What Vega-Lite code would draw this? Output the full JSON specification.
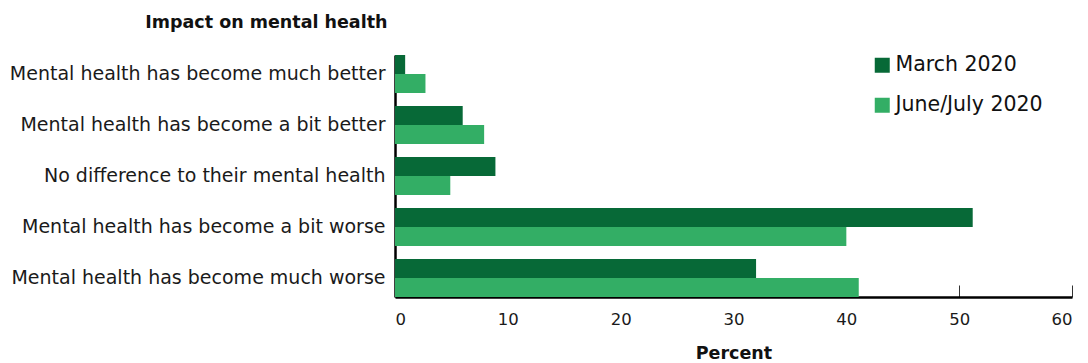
{
  "$schema": "https://vega.github.io/schema/vega-lite/v6.json",
  "autosize": {"type": "none"},
  "padding": {"left": 395, "top": 55, "right": 16, "bottom": 66},
  "width": 677,
  "height": 242,
  "config": {
    "view": {"stroke": null},
    "font": "DejaVu Sans",
    "axis": {"labelFont": "DejaVu Sans", "titleFont": "DejaVu Sans", "labelColor": "#1a1a1a", "titleColor": "#111111"},
    "legend": {"labelFont": "DejaVu Sans"}
  },
  "data": {
    "values": [
      {"impact": "Mental health has become much better", "period": "March 2020", "pct": 0.9},
      {"impact": "Mental health has become much better", "period": "June/July 2020", "pct": 2.7},
      {"impact": "Mental health has become a bit better", "period": "March 2020", "pct": 6.0},
      {"impact": "Mental health has become a bit better", "period": "June/July 2020", "pct": 7.9},
      {"impact": "No difference to their mental health", "period": "March 2020", "pct": 8.9},
      {"impact": "No difference to their mental health", "period": "June/July 2020", "pct": 4.9},
      {"impact": "Mental health has become a bit worse", "period": "March 2020", "pct": 51.2},
      {"impact": "Mental health has become a bit worse", "period": "June/July 2020", "pct": 40.0},
      {"impact": "Mental health has become much worse", "period": "March 2020", "pct": 32.0},
      {"impact": "Mental health has become much worse", "period": "June/July 2020", "pct": 41.1}
    ]
  },
  "mark": {"type": "bar"},
  "encoding": {
    "y": {
      "field": "impact",
      "type": "nominal",
      "sort": null,
      "scale": {"paddingInner": 0.255, "paddingOuter": 0},
      "axis": {
        "title": "Impact on mental health",
        "titleAngle": 0,
        "titleAlign": "right",
        "titleBaseline": "middle",
        "titleX": -8,
        "titleY": -33,
        "titleFontSize": 17.5,
        "titleFontWeight": "bold",
        "labelFontSize": 19,
        "labelPadding": 10,
        "labelLimit": 420,
        "ticks": false,
        "domainColor": "#000000",
        "domainWidth": 2.5
      }
    },
    "yOffset": {"field": "period", "type": "nominal", "sort": ["March 2020", "June/July 2020"], "scale": {"paddingInner": 0, "paddingOuter": 0}},
    "x": {
      "field": "pct",
      "type": "quantitative",
      "scale": {"domain": [0, 60], "nice": false},
      "axis": {
        "title": "Percent",
        "titleFontSize": 17.5,
        "titleFontWeight": "bold",
        "titlePadding": 17,
        "values": [0, 10, 20, 30, 40, 50, 60],
        "labelFontSize": 16.5,
        "labelPadding": 26,
        "tickSize": -12,
        "tickColor": "#333333",
        "tickWidth": 1,
        "grid": false,
        "domainColor": "#000000",
        "domainWidth": 2.5
      }
    },
    "color": {
      "field": "period",
      "type": "nominal",
      "sort": ["March 2020", "June/July 2020"],
      "scale": {"domain": ["March 2020", "June/July 2020"], "range": ["#076937", "#33ae65"]},
      "legend": {
        "title": null,
        "orient": "none",
        "legendX": 477,
        "legendY": 0,
        "symbolType": "square",
        "symbolSize": 225,
        "symbolStrokeWidth": 0,
        "labelFontSize": 20.5,
        "labelColor": "#111111",
        "labelOffset": 3,
        "rowPadding": 19,
        "labelLimit": 300
      }
    }
  }
}
